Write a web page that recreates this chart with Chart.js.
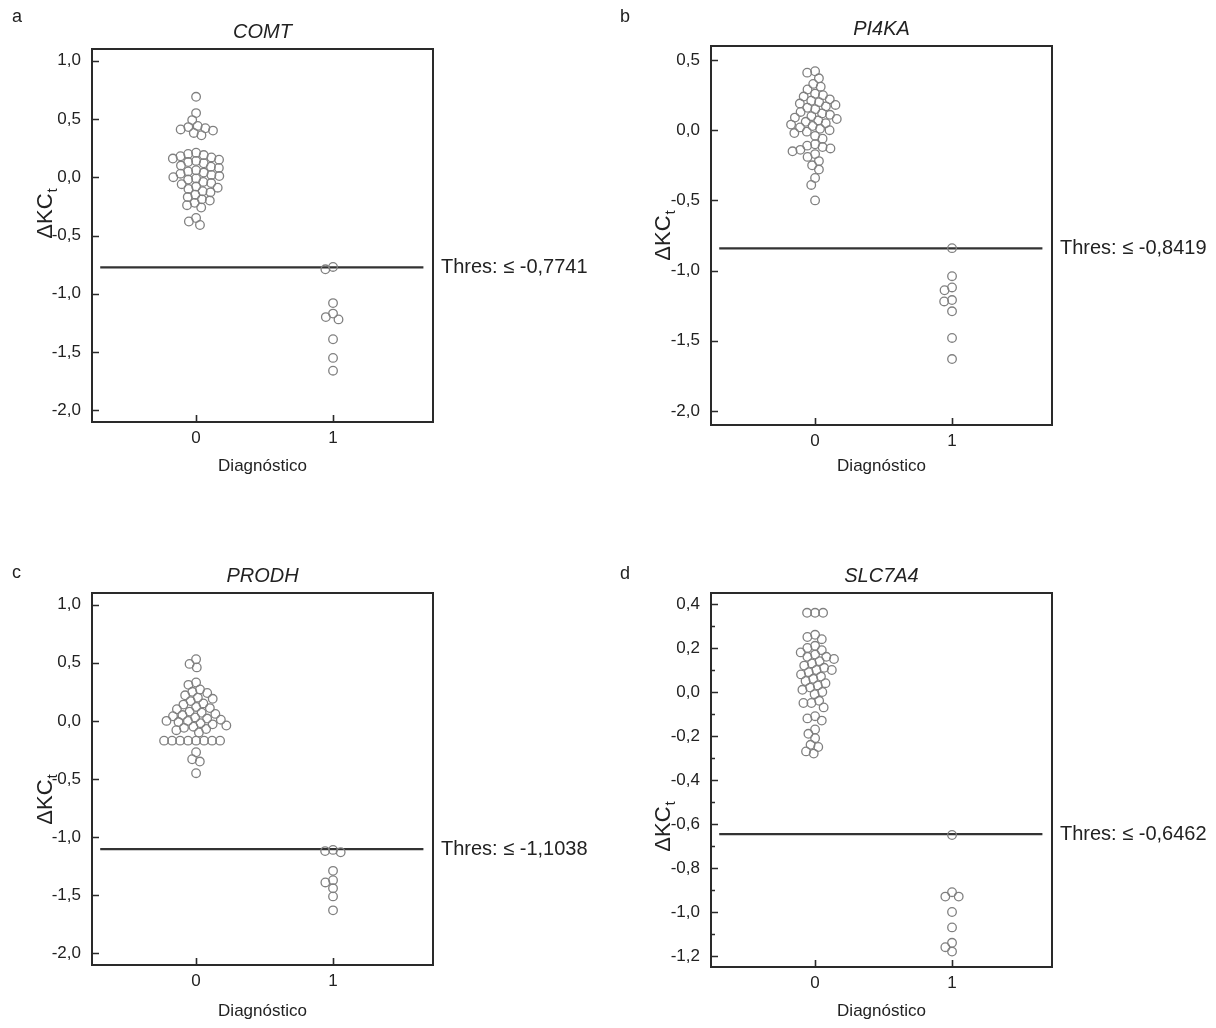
<!DOCTYPE html>
<html>
<head>
<meta charset="utf-8">
<script src="https://cdn.jsdelivr.net/npm/chart.js@4.4.1/dist/chart.umd.min.js"></script>
<style>
    html, body { margin: 0; padding: 0; background: #fff; }
    #wrap { position: relative; width: 1216px; height: 1028px; overflow: hidden; }
    canvas { position: absolute; }
</style>
</head>
<body>
<div id="wrap">
    <canvas id="pa" width="608" height="544" style="left:0;top:0"></canvas>
    <canvas id="pb" width="608" height="544" style="left:608px;top:0"></canvas>
    <canvas id="pc" width="608" height="484" style="left:0;top:544px"></canvas>
    <canvas id="pd" width="608" height="484" style="left:608px;top:544px"></canvas>
</div>
<script>
// Diagnóstico groups on the x axis
const categories = [0, 1];
const letters = ["a", "b", "c", "d"];
const genes = ["COMT", "PI4KA", "PRODH", "SLC7A4"];
const thresholds = [-0.7741, -0.8419, -1.1038, -0.6462];

// ΔKCt values (group 0 / group 1)
const comtCtrl = [0.69, 0.55, 0.49, 0.44, 0.43, 0.42, 0.41, 0.40, 0.38, 0.36,
    0.21, 0.20, 0.19, 0.18, 0.17, 0.16, 0.15, 0.14, 0.13, 0.12, 0.10, 0.09, 0.08,
    0.06, 0.05, 0.04, 0.03, 0.02, 0.01, 0.00, -0.01, -0.02, -0.04, -0.05, -0.06,
    -0.08, -0.09, -0.10, -0.12, -0.13, -0.15, -0.17, -0.19, -0.20, -0.22, -0.24,
    -0.26, -0.35, -0.38, -0.41];
const comtCase = [-0.77, -0.79, -1.08, -1.17, -1.20, -1.22, -1.39, -1.55, -1.66];

const pi4kaCtrl = [0.42, 0.41, 0.37, 0.33, 0.31, 0.29, 0.26, 0.25, 0.24, 0.22,
    0.21, 0.20, 0.19, 0.18, 0.17, 0.16, 0.15, 0.13, 0.12, 0.11, 0.10, 0.09, 0.08,
    0.07, 0.06, 0.05, 0.04, 0.03, 0.02, 0.01, 0.00, -0.01, -0.02, -0.04, -0.06,
    -0.10, -0.11, -0.12, -0.13, -0.14, -0.15, -0.17, -0.19, -0.22, -0.25, -0.28,
    -0.34, -0.39, -0.50];
const pi4kaCase = [-0.84, -1.04, -1.12, -1.14, -1.21, -1.22, -1.29, -1.48, -1.63];

const prodhCtrl = [0.53, 0.49, 0.46, 0.33, 0.31, 0.27, 0.25, 0.24, 0.22, 0.20,
    0.19, 0.17, 0.15, 0.14, 0.12, 0.11, 0.10, 0.08, 0.07, 0.06, 0.05, 0.04, 0.03,
    0.02, 0.01, 0.00, 0.00, -0.01, -0.02, -0.03, -0.04, -0.05, -0.06, -0.07, -0.08,
    -0.10, -0.17, -0.17, -0.17, -0.17, -0.17, -0.17, -0.17, -0.17, -0.27, -0.33,
    -0.35, -0.45];
const prodhCase = [-1.11, -1.12, -1.13, -1.29, -1.37, -1.39, -1.44, -1.51, -1.63];

const slc7a4Ctrl = [0.36, 0.36, 0.36, 0.26, 0.25, 0.24, 0.21, 0.20, 0.19, 0.18,
    0.17, 0.16, 0.16, 0.15, 0.14, 0.13, 0.12, 0.11, 0.10, 0.10, 0.09, 0.08, 0.07,
    0.06, 0.05, 0.04, 0.03, 0.02, 0.01, 0.00, -0.01, -0.04, -0.05, -0.05, -0.07,
    -0.11, -0.12, -0.13, -0.17, -0.19, -0.21, -0.24, -0.25, -0.27, -0.28];
const slc7a4Case = [-0.65, -0.91, -0.93, -0.93, -1.00, -1.07, -1.14, -1.16, -1.18];

// axis ranges
const yMin = [-2.1, -2.1, -2.1, -1.25];
const yMax = [1.1, 0.6, 1.1, 0.45];
const yStep = [0.5, 0.5, 0.5, 0.2];
const xMin = -0.76;
const xMax = 1.73;
const thresFrom = -0.7;
const thresTo = 1.66;

const groups = [
    [comtCtrl, comtCase],
    [pi4kaCtrl, pi4kaCase],
    [prodhCtrl, prodhCase],
    [slc7a4Ctrl, slc7a4Case],
];

// layout of each panel inside its canvas
const panels = [
    { id: "pa", area: { l: 92, t: 49, r: 433, b: 422 }, xh: 55, letterY: 22, yLab: [44, 214], minor: false },
    { id: "pb", area: { l: 103, t: 46, r: 444, b: 425 }, xh: 52, letterY: 22, yLab: [54, 236], minor: false },
    { id: "pc", area: { l: 92, t: 49, r: 433, b: 421 }, xh: 57, letterY: 34, yLab: [44, 256], minor: false },
    { id: "pd", area: { l: 103, t: 49, r: 444, b: 423 }, xh: 55, letterY: 35, yLab: [54, 283], minor: true },
];

const FONT = "'Liberation Sans', Arial, sans-serif";
const INK = "#222";
const fmt = (v) => v.toFixed(1).replace(".", ",").replace("-0,0", "0,0");

// frame, inward ticks, titles and threshold label
const decor = {
    id: "decor",
    afterDraw(chart, args, o) {
        const { ctx, chartArea: a, scales: { x, y } } = chart;
        ctx.save();
        ctx.strokeStyle = "#2a2a2a";
        ctx.lineWidth = 2;
        ctx.strokeRect(a.left, a.top, a.right - a.left, a.bottom - a.top);

        ctx.lineWidth = 1.6;
        ctx.beginPath();
        const yt = y.ticks.map((t) => t.value);
        yt.forEach((v) => {
            const py = Math.round(y.getPixelForValue(v)) + 0.5;
            ctx.moveTo(a.left, py);
            ctx.lineTo(a.left + 7, py);
        });
        if (o.minor) {
            for (let i = 0; i < yt.length - 1; i++) {
                const py = Math.round(y.getPixelForValue((yt[i] + yt[i + 1]) / 2)) + 0.5;
                ctx.moveTo(a.left, py);
                ctx.lineTo(a.left + 4, py);
            }
        }
        x.ticks.forEach((t) => {
            const px = Math.round(x.getPixelForValue(t.value)) + 0.5;
            ctx.moveTo(px, a.bottom);
            ctx.lineTo(px, a.bottom - 7);
        });
        ctx.stroke();

        ctx.fillStyle = INK;
        ctx.textBaseline = "alphabetic";
        ctx.textAlign = "left";
        ctx.font = "18px " + FONT;
        ctx.fillText(o.letter, 12, o.letterY);

        ctx.textAlign = "center";
        ctx.font = "italic 20px " + FONT;
        ctx.fillText(o.gene, (a.left + a.right) / 2, a.top - 11);

        ctx.textAlign = "left";
        ctx.textBaseline = "middle";
        ctx.font = "20px " + FONT;
        ctx.fillText("Thres: \u2264 " + o.thres.toFixed(4).replace(".", ","), a.right + 8, y.getPixelForValue(o.thres));

        // ΔKCt, rotated
        ctx.translate(o.yLab[0], o.yLab[1]);
        ctx.rotate(-Math.PI / 2);
        ctx.textBaseline = "alphabetic";
        ctx.font = "22px " + FONT;
        const w1 = ctx.measureText("\u0394KC").width;
        ctx.font = "15px " + FONT;
        const w2 = ctx.measureText("t").width;
        const x0 = -(w1 + w2) / 2;
        ctx.font = "22px " + FONT;
        ctx.fillText("\u0394KC", x0, 8);
        ctx.font = "15px " + FONT;
        ctx.fillText("t", x0 + w1 + 1, 13);
        ctx.restore();
    },
};

// place overlapping points side by side around their group position
function swarm(pys, d) {
    const placed = [];
    const out = new Array(pys.length);
    const order = pys.map((_, i) => i).sort((a, b) => pys[a] - pys[b]);
    for (const i of order) {
        const py = pys[i];
        const iv = [];
        placed.forEach((p) => {
            const dy = Math.abs(p.y - py);
            if (dy < d) {
                const dx = Math.sqrt(d * d - dy * dy);
                iv.push([p.x - dx, p.x + dx]);
            }
        });
        const cands = [0];
        iv.forEach(([lo, hi]) => cands.push(lo, hi));
        cands.sort((a, b) => Math.abs(a) - Math.abs(b) || a - b);
        let px = 0;
        for (const c of cands) {
            if (iv.every(([lo, hi]) => c <= lo + 1e-6 || c >= hi - 1e-6)) {
                px = c;
                break;
            }
        }
        out[i] = px;
        placed.push({ x: px, y: py });
    }
    return out;
}

const charts = panels.map((p, k) => {
    const canvas = document.getElementById(p.id);
    const W = canvas.width;
    const H = canvas.height;
    const pointSets = groups[k].map((vals, g) => ({
        type: "scatter",
        data: vals.map((v) => ({ x: categories[g], y: v })),
        pointRadius: 4.3,
        pointBorderWidth: 1.3,
        pointBorderColor: "#808080",
        pointBackgroundColor: "rgba(255,255,255,0)",
    }));
    return new Chart(canvas, {
        type: "scatter",
        data: {
            datasets: [
                ...pointSets,
                {
                    type: "line",
                    showLine: true,
                    data: [{ x: thresFrom, y: thresholds[k] }, { x: thresTo, y: thresholds[k] }],
                    borderColor: "#333",
                    borderWidth: 2.2,
                    pointRadius: 0,
                },
            ],
        },
        options: {
            responsive: false,
            animation: false,
            events: [],
            layout: {
                padding: { left: 0, top: p.area.t, right: W - p.area.r, bottom: H - p.area.b - p.xh },
            },
            plugins: {
                legend: { display: false },
                tooltip: { enabled: false },
                decor: {
                    letter: letters[k],
                    letterY: p.letterY,
                    gene: genes[k],
                    thres: thresholds[k],
                    yLab: p.yLab,
                    minor: p.minor,
                },
            },
            scales: {
                x: {
                    type: "linear",
                    min: xMin,
                    max: xMax,
                    afterBuildTicks: (s) => { s.ticks = categories.map((v) => ({ value: v })); },
                    afterFit: (s) => { s.height = p.xh; },
                    grid: { display: false, drawTicks: false },
                    border: { display: false },
                    ticks: {
                        padding: 6,
                        autoSkip: false,
                        maxRotation: 0,
                        color: INK,
                        font: { family: FONT, size: 17 },
                        callback: (v) => String(v),
                    },
                    title: {
                        display: true,
                        text: "Diagnóstico",
                        color: INK,
                        padding: { top: 0, bottom: 0 },
                        font: { family: FONT, size: 17 },
                    },
                },
                y: {
                    type: "linear",
                    min: yMin[k],
                    max: yMax[k],
                    afterFit: (s) => { s.width = p.area.l; },
                    grid: { display: false, drawTicks: false },
                    border: { display: false },
                    ticks: {
                        stepSize: yStep[k],
                        includeBounds: false,
                        padding: 11,
                        color: INK,
                        font: { family: FONT, size: 17 },
                        callback: (v) => fmt(v),
                    },
                },
            },
        },
        plugins: [decor],
    });
});

// spread each group sideways once the scales are known
charts.forEach((chart, k) => {
    const xs = chart.scales.x;
    const ys = chart.scales.y;
    groups[k].forEach((vals, g) => {
        const off = swarm(vals.map((v) => ys.getPixelForValue(v)), 8);
        const cx = xs.getPixelForValue(categories[g]);
        chart.data.datasets[g].data = vals.map((v, i) => ({
            x: xs.getValueForPixel(cx + off[i]),
            y: v,
        }));
    });
    chart.update("none");
});
</script>
</body>
</html>
